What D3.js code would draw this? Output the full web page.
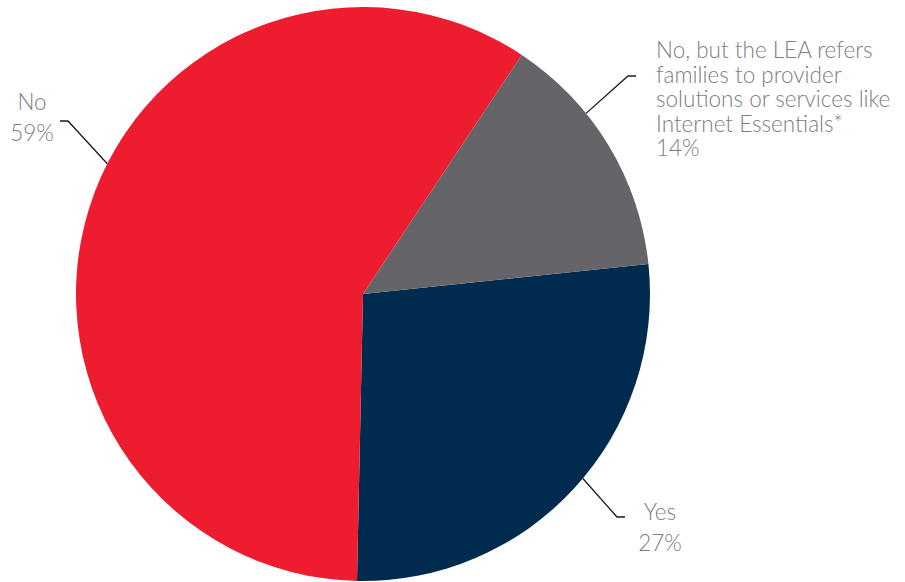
<!DOCTYPE html>
<html>
<head>
<meta charset="utf-8">
<script src="https://cdn.jsdelivr.net/npm/d3@7"></script>
<style>
  html, body { margin: 0; padding: 0; background: #ffffff; }
  svg { display: block; }
</style>
</head>
<body>
<svg id="chart" width="905" height="582"></svg>
<script>
// ---- Data ----
const categories = ["Yes", "No", "No, but the LEA refers families to provider solutions or services like Internet Essentials*"];
const values = [27, 59, 14];
const valueLabels = ["27%", "59%", "14%"];
const labelLines = [
  ["Yes"],
  ["No"],
  ["No, but the LEA refers", "families to provider", "solutions or services like", "Internet Essentials*"]
];
const colors = ["#002B4F", "#ED1C2E", "#646469"];

// ---- Layout ----
const width = 905, height = 582;
const cx = 363, cy = 294, radius = 287;
const startDeg = 84;

const svg = d3.select("#chart");
const g = svg.append("g").attr("transform", `translate(${cx},${cy})`);

const pie = d3.pie().sort(null).value(d => d)
  .startAngle(startDeg * Math.PI / 180)
  .endAngle((startDeg + 360) * Math.PI / 180);
const arcs = pie(values);
const arc = d3.arc().innerRadius(0).outerRadius(radius);

g.selectAll("path.slice")
  .data(arcs)
  .join("path")
  .attr("class", "slice")
  .attr("d", arc)
  .attr("fill", (d, i) => colors[i]);

const labelLayout = [
  { angle: 130, elbow: [617, 517], tick: [625, 517], tx: 660, ty: 520, anchor: "middle", lh: 31 },
  { angle: 297, elbow: [68, 121], tick: [60, 121], tx: 32, ty: 110, anchor: "middle", lh: 31 },
  { angle: 51, elbow: [628, 76], tick: [636, 76], tx: 656, ty: 58, anchor: "start", lh: 24.5 }
];

arcs.forEach((a, i) => {
  const L = labelLayout[i];
  const th = L.angle * Math.PI / 180;
  const sx = cx + radius * Math.sin(th), sy = cy - radius * Math.cos(th);
  svg.append("polyline")
    .attr("points", [[sx, sy], L.elbow, L.tick].map(p => p.join(",")).join(" "))
    .attr("fill", "none")
    .attr("stroke", "#1a1a1a")
    .attr("stroke-width", 1.3);

  const lines = labelLines[i].concat([valueLabels[i]]);
  const t = svg.append("text")
    .attr("x", L.tx).attr("y", L.ty)
    .attr("text-anchor", L.anchor)
    .attr("font-family", "Lato, 'Open Sans', sans-serif")
    .attr("font-weight", 300)
    .attr("font-size", 22.5)
    .attr("fill", "#7d7d80");
  lines.forEach((s, k) => {
    t.append("tspan").attr("x", L.tx).attr("y", L.ty + k * L.lh).text(s);
  });
});
</script>
</body>
</html>
